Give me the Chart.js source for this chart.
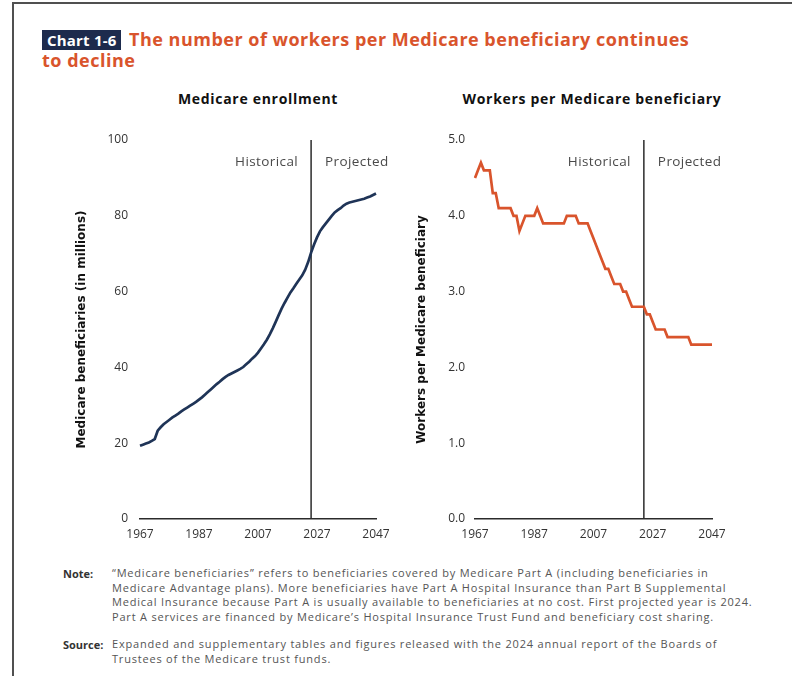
<!DOCTYPE html>
<html>
<head>
<meta charset="utf-8">
<script src="https://cdn.jsdelivr.net/npm/chart.js@4.4.1/dist/chart.umd.min.js"></script>
<style>
  html,body{margin:0;padding:0;background:#fff;}
  body{width:792px;height:676px;position:relative;overflow:hidden;font-family:"Open Sans",sans-serif;}
  .frame{position:absolute;left:12px;top:2px;width:790px;height:690px;border-top:2px solid #505050;border-left:2px solid #505050;}
  .tag{position:absolute;left:42px;top:30px;height:20px;line-height:20px;padding:0 5px 0 5px;background:#1d2b4d;color:#fff;font-weight:700;font-size:15px;letter-spacing:0.2px;}
  .t1,.t2{position:absolute;color:#d9542c;font-weight:700;font-size:18px;white-space:nowrap;letter-spacing:0.5px;}
  .t1{left:129px;top:27px;}
  .t2{left:42px;top:48px;}
  .sub{position:absolute;top:89px;font-weight:700;font-size:14px;letter-spacing:0.7px;color:#111;white-space:nowrap;transform:translateX(-50%);}
  canvas{position:absolute;}
  .lab{position:absolute;font-weight:700;font-size:11px;color:#333;}
  .txt{position:absolute;left:112px;font-size:11px;letter-spacing:0.8px;line-height:14.5px;color:#555;white-space:nowrap;}
</style>
</head>
<body>
<div class="frame"></div>
<div class="tag">Chart 1-6</div>
<div class="t1">The number of workers per Medicare beneficiary continues</div>
<div class="t2">to decline</div>
<div class="sub" style="left:258px">Medicare enrollment</div>
<div class="sub" style="left:592px">Workers per Medicare beneficiary</div>
<canvas id="c1" width="340" height="440" style="left:60px;top:120px"></canvas>
<canvas id="c2" width="340" height="440" style="left:400px;top:120px"></canvas>
<div class="lab" style="left:63px;top:566px">Note:</div>
<div class="txt" style="top:566px">“Medicare beneficiaries” refers to beneficiaries covered by Medicare Part A (including beneficiaries in<br>Medicare Advantage plans). More beneficiaries have Part A Hospital Insurance than Part B Supplemental<br>Medical Insurance because Part A is usually available to beneficiaries at no cost. First projected year is 2024.<br>Part A services are financed by Medicare’s Hospital Insurance Trust Fund and beneficiary cost sharing.</div>
<div class="lab" style="left:63px;top:637px">Source:</div>
<div class="txt" style="top:637px">Expanded and supplementary tables and figures released with the 2024 annual report of the Boards of<br>Trustees of the Medicare trust funds.</div>
<script>
// ---- data ----
const years = [];
for (let y = 1967; y <= 2047; y++) years.push(String(y));
const xTickLabels = ['1967','1987','2007','2027','2047'];

const enrollment = [
  19.3,19.6,19.9,20.2,20.6,21.1,23.3,24.2,25.0,25.6, // 1967-1976
  26.2,26.8,27.3,27.8,28.4,28.9,29.4,29.9,30.4,30.9, // 1977-1986
  31.5,32.1,32.8,33.5,34.2,34.9,35.6,36.2,36.9,37.5, // 1987-1996
  38.0,38.4,38.8,39.2,39.6,40.1,40.8,41.5,42.3,43.0, // 1997-2006
  43.9,45.0,46.1,47.3,48.7,50.3,52.0,53.8,55.5,57.0, // 2007-2016
  58.4,59.8,60.9,62.1,63.2,64.3,65.8,67.8,70.3,72.4, // 2017-2026
  74.3,75.9,77.0,78.0,79.0,80.0,80.9,81.5,82.0,82.7, // 2027-2036
  83.2,83.5,83.7,83.9,84.1,84.3,84.5,84.8,85.1,85.5, // 2037-2046
  85.9                                               // 2047
];
const workers = [
  4.5,4.6,4.7,4.6,4.6,4.6,4.3,4.3,4.1,4.1,  // 1967-1976
  4.1,4.1,4.1,4.0,4.0,3.8,3.9,4.0,4.0,4.0,  // 1977-1986
  4.0,4.1,4.0,3.9,3.9,3.9,3.9,3.9,3.9,3.9,  // 1987-1996
  3.9,4.0,4.0,4.0,4.0,3.9,3.9,3.9,3.9,3.8,  // 1997-2006
  3.7,3.6,3.5,3.4,3.3,3.3,3.2,3.1,3.1,3.1,  // 2007-2016
  3.0,3.0,2.9,2.8,2.8,2.8,2.8,2.8,2.7,2.7,  // 2017-2026
  2.6,2.5,2.5,2.5,2.5,2.4,2.4,2.4,2.4,2.4,  // 2027-2036
  2.4,2.4,2.4,2.3,2.3,2.3,2.3,2.3,2.3,2.3,  // 2037-2046
  2.3                                        // 2047
];
const splitYearLeft = '2025';
const splitYearRight = '2024';
const leftTicks = [0,20,40,60,80,100];
const rightTicks = [0,1,2,3,4,5];

// ---- plugin: historical / projected divider ----
const splitPlugin = {
  id: 'split',
  beforeDatasetsDraw(chart, args, opts) {
    const {ctx, chartArea, scales} = chart;
    const x = scales.x.getPixelForValue(years.indexOf(opts.year));
    ctx.save();
    ctx.strokeStyle = '#2b2b2b';
    ctx.lineWidth = 1.5;
    ctx.beginPath();
    ctx.moveTo(x, chartArea.top);
    ctx.lineTo(x, chartArea.bottom);
    ctx.stroke();
    ctx.fillStyle = '#4a4a4a';
    ctx.font = '13.5px "Open Sans", sans-serif';
    if ('letterSpacing' in ctx) ctx.letterSpacing = '0.4px';
    ctx.textBaseline = 'middle';
    ctx.textAlign = 'right';
    ctx.fillText('Historical', x - 13, chartArea.top + 22);
    ctx.textAlign = 'left';
    ctx.fillText('Projected', x + 14, chartArea.top + 22);
    ctx.restore();
  }
};

function makeChart(id, data, color, yTicks, yTitle, split, yWidth, yPad, rightPad, fmt) {
  return new Chart(document.getElementById(id), {
    type: 'line',
    data: {
      labels: years,
      datasets: [{
        data: data,
        borderColor: color,
        borderWidth: 2.7,
        pointRadius: 0,
        tension: 0,
        fill: false
      }]
    },
    plugins: [splitPlugin],
    options: {
      responsive: false,
      devicePixelRatio: 1,
      animation: false,
      layout: {padding: {top: 20, right: rightPad, bottom: 0, left: 0}},
      plugins: {legend: {display: false}, tooltip: {enabled: false}, split: {year: split}},
      scales: {
        x: {
          type: 'category',
          grid: {display: false, drawTicks: false},
          border: {display: true, color: '#2b2b2b', width: 1.6},
          ticks: {
            autoSkip: false, maxRotation: 0, padding: 8,
            color: '#333', font: {size: 12, family: '"Open Sans", sans-serif'},
            callback: function(v, i) { const l = years[i]; return xTickLabels.includes(l) ? l : ''; }
          },
          afterFit: s => { s.height = 41; }
        },
        y: {
          min: yTicks[0], max: yTicks[yTicks.length - 1],
          grid: {display: false, drawTicks: false},
          border: {display: false},
          afterBuildTicks: s => { s.ticks = yTicks.map(v => ({value: v})); },
          ticks: {
            padding: yPad, color: '#333', font: {size: 12, family: '"Open Sans", sans-serif'},
            callback: fmt
          },
          title: {
            display: true, text: yTitle, color: '#111',
            font: {size: 12, weight: 'bold', family: '"DejaVu Sans", sans-serif'},
            padding: {top: 15, bottom: 0}
          },
          afterFit: s => { s.width = yWidth; }
        }
      }
    }
  });
}

makeChart('c1', enrollment, '#1f3457', leftTicks, 'Medicare beneficiaries (in millions)', splitYearLeft, 80, 12, 24, v => String(v));
makeChart('c2', workers, '#d9542c', rightTicks, 'Workers per Medicare beneficiary', splitYearRight, 75, 10, 28, v => Number(v).toFixed(1));
</script>
</body>
</html>
